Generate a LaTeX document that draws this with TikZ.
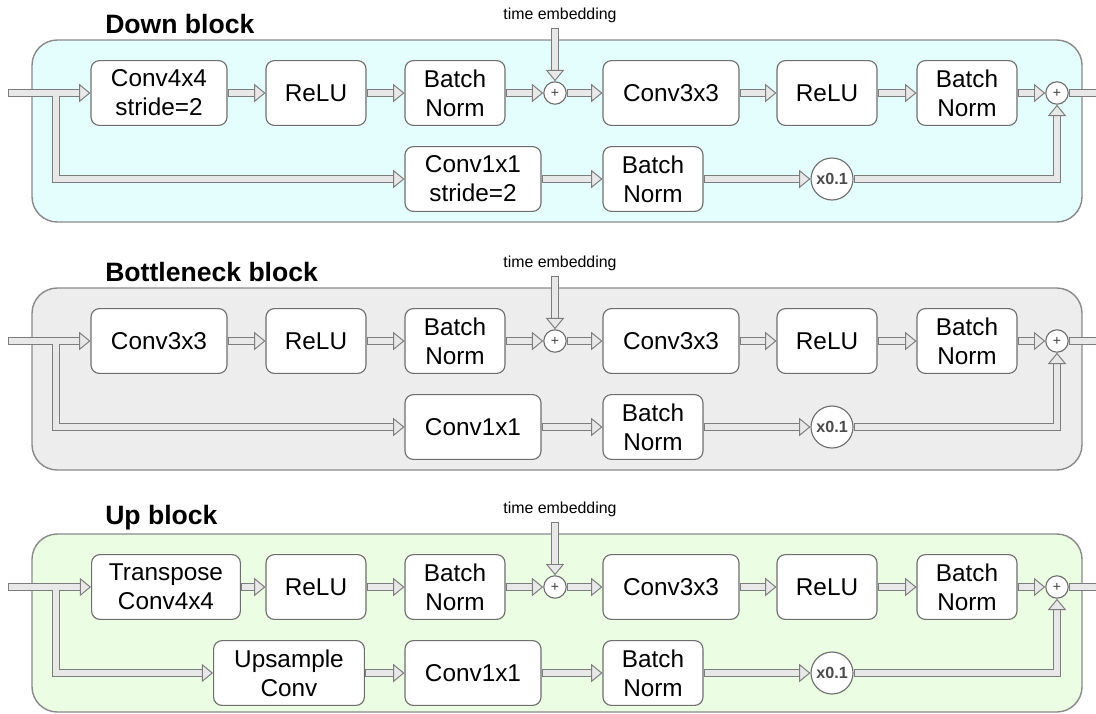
\documentclass[tikz,border=0pt]{standalone}
\usepackage{fontspec}
\setmainfont{Liberation Sans}
\usetikzlibrary{arrows.meta}
\definecolor{pipeedge}{RGB}{125,125,125}
\definecolor{pipefill}{RGB}{232,232,232}
\definecolor{boxedge}{RGB}{110,110,110}
\definecolor{downfill}{RGB}{228,254,254}
\definecolor{neckfill}{RGB}{237,237,237}
\definecolor{upfill}{RGB}{235,253,227}
\tikzset{
    layer/.style={
        draw=boxedge, line width=0.8pt, fill=white, rounded corners=6pt,
        minimum height=1.62cm, inner sep=0pt, align=center,
        font=\fontsize{17.3}{20.6}\selectfont
    },
    wide layer/.style={layer, minimum width=3.4cm},
    narrow layer/.style={layer, minimum width=2.5cm},
    sum node/.style={
        circle, draw=boxedge, line width=0.8pt, fill=white,
        minimum size=0.56cm, inner sep=0pt,
        font=\fontsize{10}{10}\selectfont, text=black!75
    },
    scale node/.style={
        circle, draw=boxedge, line width=0.8pt, fill=white,
        minimum size=1.05cm, inner sep=0pt,
        font=\fontsize{11.5}{12}\selectfont\bfseries, text=black!70
    },
    pipe line/.style={
        draw=pipefill, line width=4pt, shorten <=0.7pt,
        preaction={draw=pipeedge, line width=5.7pt, arrows=-, shorten <=0pt, shorten >=4pt}
    },
    pipe/.style={
        pipe line,
        -{Triangle[length=8pt, width=13pt, fill=pipefill, color=pipeedge, line width=0.7pt]}
    },
    branch/.style={pipe, shorten <=0pt},
    block frame/.style={draw=pipeedge!90, line width=1pt, rounded corners=18pt},
    block title/.style={anchor=west, inner sep=0pt, font=\fontsize{18.9}{20}\selectfont\bfseries},
    embed label/.style={inner sep=0pt, font=\fontsize{11.3}{12}\selectfont}
}

\begin{document}
\begin{tikzpicture}[x=0.025cm, y=-0.025cm]
    \useasboundingbox (0,0) rectangle (1096,713);

    % down block
    \begin{scope}
        \draw[block frame, fill=downfill] (32,40) rectangle (1082,222);
        \node[block title] (dtitle) at (105,24) {Down block};
        \node[embed label] (dembed) at (560,15) {time embedding};
        \coordinate (dembedin) at (555,28);
        \coordinate (din) at (8,93);
        \coordinate (djoin) at (56,95.5);
        \coordinate (dout) at (1104,93);
        \node[wide layer] (dconv) at (159,93) {Conv4x4\\stride=2};
        \node[narrow layer] (drelu) at (316,93) {ReLU};
        \node[narrow layer] (dbn) at (455,93) {Batch\\Norm};
        \node[sum node] (dsum) at (555,93) {+};
        \node[wide layer] (dconvb) at (671,93) {Conv3x3};
        \node[narrow layer] (drelub) at (827,93) {ReLU};
        \node[narrow layer] (dbnb) at (967,93) {Batch\\Norm};
        \node[sum node] (dres) at (1057,93) {+};
        \node[wide layer] (dskip) at (473,179) {Conv1x1\\stride=2};
        \node[narrow layer] (dskipbn) at (653,179) {Batch\\Norm};
        \node[scale node] (dscale) at (832,179) {x0.1};
        \draw[pipe] (din) -- (dconv);
        \draw[branch] (djoin) |- (dskip.west);
        \draw[pipe] (dconv) -- (drelu);
        \draw[pipe] (drelu) -- (dbn);
        \draw[pipe] (dbn) -- (dsum);
        \draw[pipe] (dembedin) -- (dsum);
        \draw[pipe] (dsum) -- (dconvb);
        \draw[pipe] (dconvb) -- (drelub);
        \draw[pipe] (drelub) -- (dbnb);
        \draw[pipe] (dbnb) -- (dres);
        \draw[pipe] (dskip) -- (dskipbn);
        \draw[pipe] (dskipbn) -- (dscale);
        \draw[pipe] (dscale) -| (dres.south);
        \draw[pipe line] (dres) -- (dout);
    \end{scope}

    % bottleneck block
    \begin{scope}[shift={(0,248)}]
        \draw[block frame, fill=neckfill] (32,40) rectangle (1082,222);
        \node[block title] (btitle) at (105,24) {Bottleneck block};
        \node[embed label] (bembed) at (560,15) {time embedding};
        \coordinate (bembedin) at (555,28);
        \coordinate (bin) at (8,93);
        \coordinate (bjoin) at (56,95.5);
        \coordinate (bout) at (1104,93);
        \node[wide layer] (bconv) at (159,93) {Conv3x3};
        \node[narrow layer] (brelu) at (316,93) {ReLU};
        \node[narrow layer] (bbn) at (455,93) {Batch\\Norm};
        \node[sum node] (bsum) at (555,93) {+};
        \node[wide layer] (bconvb) at (671,93) {Conv3x3};
        \node[narrow layer] (brelub) at (827,93) {ReLU};
        \node[narrow layer] (bbnb) at (967,93) {Batch\\Norm};
        \node[sum node] (bres) at (1057,93) {+};
        \node[wide layer] (bskip) at (473,179) {Conv1x1};
        \node[narrow layer] (bskipbn) at (653,179) {Batch\\Norm};
        \node[scale node] (bscale) at (832,179) {x0.1};
        \draw[pipe] (bin) -- (bconv);
        \draw[branch] (bjoin) |- (bskip.west);
        \draw[pipe] (bconv) -- (brelu);
        \draw[pipe] (brelu) -- (bbn);
        \draw[pipe] (bbn) -- (bsum);
        \draw[pipe] (bembedin) -- (bsum);
        \draw[pipe] (bsum) -- (bconvb);
        \draw[pipe] (bconvb) -- (brelub);
        \draw[pipe] (brelub) -- (bbnb);
        \draw[pipe] (bbnb) -- (bres);
        \draw[pipe] (bskip) -- (bskipbn);
        \draw[pipe] (bskipbn) -- (bscale);
        \draw[pipe] (bscale) -| (bres.south);
        \draw[pipe line] (bres) -- (bout);
    \end{scope}

    % up block
    \begin{scope}[shift={(0,494)}]
        \draw[block frame, fill=upfill] (32,40) rectangle (1082,218);
        \node[block title] (utitle) at (105,24) {Up block};
        \node[embed label] (uembed) at (560,15) {time embedding};
        \coordinate (uembedin) at (555,28);
        \coordinate (uin) at (8,93);
        \coordinate (ujoin) at (56,95.5);
        \coordinate (uout) at (1104,93);
        \node[layer, minimum width=3.72cm] (uconv) at (166,93) {Transpose\\Conv4x4};
        \node[narrow layer] (urelu) at (316,93) {ReLU};
        \node[narrow layer] (ubn) at (455,93) {Batch\\Norm};
        \node[sum node] (usum) at (555,93) {+};
        \node[wide layer] (uconvb) at (671,93) {Conv3x3};
        \node[narrow layer] (urelub) at (827,93) {ReLU};
        \node[narrow layer] (ubnb) at (967,93) {Batch\\Norm};
        \node[sum node] (ures) at (1057,93) {+};
        \node[layer, minimum width=3.77cm] (uup) at (289,179) {Upsample\\Conv};
        \node[wide layer] (uskip) at (473,179) {Conv1x1};
        \node[narrow layer] (uskipbn) at (653,179) {Batch\\Norm};
        \node[scale node] (uscale) at (832,179) {x0.1};
        \draw[pipe] (uin) -- (uconv);
        \draw[branch] (ujoin) |- (uup.west);
        \draw[pipe] (uconv) -- (urelu);
        \draw[pipe] (urelu) -- (ubn);
        \draw[pipe] (ubn) -- (usum);
        \draw[pipe] (uembedin) -- (usum);
        \draw[pipe] (usum) -- (uconvb);
        \draw[pipe] (uconvb) -- (urelub);
        \draw[pipe] (urelub) -- (ubnb);
        \draw[pipe] (ubnb) -- (ures);
        \draw[pipe] (uup) -- (uskip);
        \draw[pipe] (uskip) -- (uskipbn);
        \draw[pipe] (uskipbn) -- (uscale);
        \draw[pipe] (uscale) -| (ures.south);
        \draw[pipe line] (ures) -- (uout);
    \end{scope}
\end{tikzpicture}
\end{document}
